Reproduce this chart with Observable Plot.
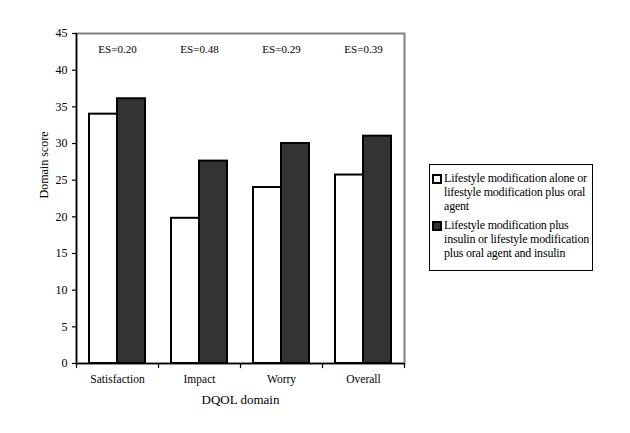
<!DOCTYPE html>
<html>
<head>
<meta charset="utf-8">
<script src="https://cdn.jsdelivr.net/npm/d3@7"></script>
<script src="https://cdn.jsdelivr.net/npm/@observablehq/plot@0.6"></script>
<style>
  html, body { margin: 0; padding: 0; background: #fff; }
  #wrap { position: relative; width: 630px; height: 433px; }
  #chart svg, #chart svg text { font-family: "Liberation Serif", "Times New Roman", Times, serif !important; }
  #legend {
    position: absolute; left: 429px; top: 164px; width: 162px; height: 105px;
    border: 1px solid #000; box-sizing: content-box;
    font-family: "Liberation Serif", "Times New Roman", Times, serif; font-size: 12px; line-height: 14px; color: #000;
    letter-spacing: -0.2px;
  }
  .item { position: relative; padding-left: 14px; margin-top: 6px; white-space: nowrap; }
  .item + .item { margin-top: 5px; }
  .sw { position: absolute; left: 2px; top: 3px; width: 6px; height: 6px; border: 2px solid #000; }
</style>
</head>
<body>
<div id="wrap"><div id="chart"></div><div id="legend"></div></div>
<script>
const categories = ["Satisfaction", "Impact", "Worry", "Overall"];
const aloneValues = [34.0, 19.8, 24.0, 25.7];
const insulinValues = [36.1, 27.6, 30.0, 31.0];
const esLabels = ["ES=0.20", "ES=0.48", "ES=0.29", "ES=0.39"];
const yTicks = [0, 5, 10, 15, 20, 25, 30, 35, 40, 45];
const seriesNames = [
  "Lifestyle modification alone or lifestyle modification plus oral agent",
  "Lifestyle modification plus insulin or lifestyle modification plus oral agent and insulin"
];
const seriesLines = [
  ["Lifestyle modification alone or", "lifestyle modification plus oral", "agent"],
  ["Lifestyle modification plus", "insulin or lifestyle modification", "plus oral agent and insulin"]
];
const seriesFill = ["#ffffff", "#333333"];

const alone = categories.map((c, i) => ({category: c, value: aloneValues[i]}));
const insulin = categories.map((c, i) => ({category: c, value: insulinValues[i]}));
const es = categories.map((c, i) => ({category: c, label: esLabels[i]}));

const chart = Plot.plot({
  width: 630,
  height: 433,
  marginLeft: 76,
  marginRight: 226,
  marginTop: 33,
  marginBottom: 70,
  style: {fontFamily: "'Liberation Serif', 'Times New Roman', Times, serif", fontSize: "11px", color: "#000", background: "#fff"},
  x: {domain: categories, padding: 0, axis: null},
  y: {domain: [0, 45], axis: null},
  marks: [
    Plot.frame({stroke: "#808080", strokeWidth: 2}),
    Plot.barY(alone, {x: "category", y: "value", fill: seriesFill[0], stroke: "#000", strokeWidth: 2, insetLeft: 13, insetRight: 41}),
    Plot.barY(insulin, {x: "category", y: "value", fill: seriesFill[1], stroke: "#000", strokeWidth: 2, insetLeft: 41, insetRight: 13}),
    Plot.ruleX([0], {x: () => categories[0], dx: -41, stroke: "#000", strokeWidth: 1.5}),
    Plot.ruleY([0], {stroke: "#000", strokeWidth: 1.5}),
    Plot.ruleX(categories, {x: d => d, dx: -41, y1: 0, y2: -0.7, stroke: "#000", strokeWidth: 1.2}),
    Plot.ruleX([categories[categories.length - 1]], {x: d => d, dx: 41, y1: 0, y2: -0.7, stroke: "#000", strokeWidth: 1.2}),
    Plot.axisY({ticks: yTicks, tickSize: 4, tickPadding: 5, stroke: "#000", strokeWidth: 1.2, label: null, fontSize: 12}),
    Plot.text(es, {x: "category", y: 42.8, text: "label", fontSize: 11}),
    Plot.text(categories, {x: d => d, y: 0, dy: 16, text: d => d, fontSize: 11.5}),
    Plot.text(["DQOL domain"], {frameAnchor: "bottom", dy: 40, fontSize: 13}),
    Plot.text(["Domain score"], {frameAnchor: "left", dx: -32, rotate: -90, fontSize: 12})
  ]
});
document.getElementById("chart").appendChild(chart);

const legend = document.getElementById("legend");
seriesLines.forEach((lines, i) => {
  const item = document.createElement("div");
  item.className = "item";
  item.title = seriesNames[i];
  const sw = document.createElement("span");
  sw.className = "sw";
  sw.style.background = seriesFill[i];
  item.appendChild(sw);
  lines.forEach((l, j) => {
    if (j) item.appendChild(document.createElement("br"));
    item.appendChild(document.createTextNode(l));
  });
  legend.appendChild(item);
});
</script>
</body>
</html>
